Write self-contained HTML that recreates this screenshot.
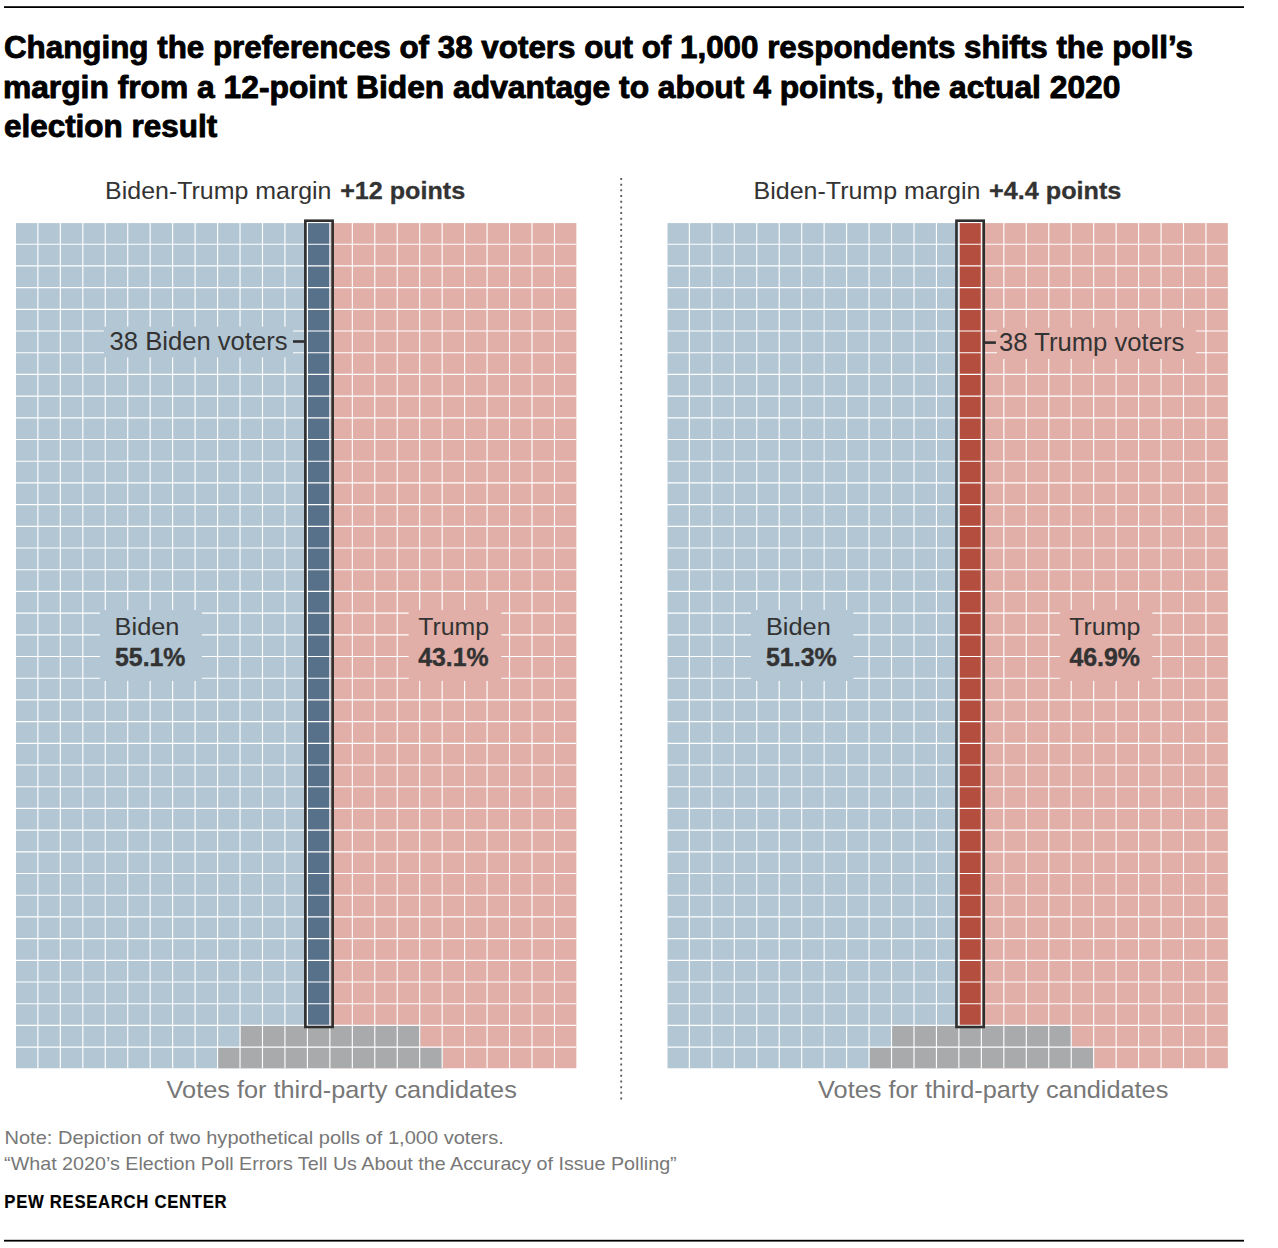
<!DOCTYPE html>
<html><head><meta charset="utf-8"><style>html,body{margin:0;padding:0;background:#fff;width:1278px;height:1248px;overflow:hidden}svg{display:block}</style></head>
<body><svg width="1278" height="1248" viewBox="0 0 1278 1248">
<rect x="0" y="0" width="1278" height="1248" fill="#fff"/>
<rect x="4" y="6.2" width="1240" height="1.8" fill="#000"/>
<rect x="4" y="1239.8" width="1240" height="1.8" fill="#000"/>
<rect x="16" y="223.1" width="291.98" height="845.15" fill="#b3c6d4"/>
<rect x="330.44" y="223.1" width="245.91" height="845.15" fill="#e1afa8"/>
<rect x="307.98" y="223.1" width="22.46" height="802.9" fill="#58718a"/>
<rect x="240.6" y="1026" width="179.68" height="21.7" fill="#a9aaac"/>
<rect x="218.14" y="1047.7" width="224.6" height="20.55" fill="#a9aaac"/>
<path fill="#fff" d="M37.31 223.1h1.15v845.15h-1.15zM59.77 223.1h1.15v845.15h-1.15zM82.23 223.1h1.15v845.15h-1.15zM104.69 223.1h1.15v845.15h-1.15zM127.15 223.1h1.15v845.15h-1.15zM149.61 223.1h1.15v845.15h-1.15zM172.07 223.1h1.15v845.15h-1.15zM194.53 223.1h1.15v845.15h-1.15zM216.99 223.1h1.15v845.15h-1.15zM239.45 223.1h1.15v845.15h-1.15zM261.91 223.1h1.15v845.15h-1.15zM284.37 223.1h1.15v845.15h-1.15zM306.83 223.1h1.15v845.15h-1.15zM329.29 223.1h1.15v845.15h-1.15zM351.75 223.1h1.15v845.15h-1.15zM374.21 223.1h1.15v845.15h-1.15zM396.67 223.1h1.15v845.15h-1.15zM419.13 223.1h1.15v845.15h-1.15zM441.59 223.1h1.15v845.15h-1.15zM464.05 223.1h1.15v845.15h-1.15zM486.51 223.1h1.15v845.15h-1.15zM508.97 223.1h1.15v845.15h-1.15zM531.43 223.1h1.15v845.15h-1.15zM553.89 223.1h1.15v845.15h-1.15zM16 243.65h560.35v1.15h-560.35zM16 265.35h560.35v1.15h-560.35zM16 287.05h560.35v1.15h-560.35zM16 308.75h560.35v1.15h-560.35zM16 330.45h560.35v1.15h-560.35zM16 352.15h560.35v1.15h-560.35zM16 373.85h560.35v1.15h-560.35zM16 395.55h560.35v1.15h-560.35zM16 417.25h560.35v1.15h-560.35zM16 438.95h560.35v1.15h-560.35zM16 460.65h560.35v1.15h-560.35zM16 482.35h560.35v1.15h-560.35zM16 504.05h560.35v1.15h-560.35zM16 525.75h560.35v1.15h-560.35zM16 547.45h560.35v1.15h-560.35zM16 569.15h560.35v1.15h-560.35zM16 590.85h560.35v1.15h-560.35zM16 612.55h560.35v1.15h-560.35zM16 634.25h560.35v1.15h-560.35zM16 655.95h560.35v1.15h-560.35zM16 677.65h560.35v1.15h-560.35zM16 699.35h560.35v1.15h-560.35zM16 721.05h560.35v1.15h-560.35zM16 742.75h560.35v1.15h-560.35zM16 764.45h560.35v1.15h-560.35zM16 786.15h560.35v1.15h-560.35zM16 807.85h560.35v1.15h-560.35zM16 829.55h560.35v1.15h-560.35zM16 851.25h560.35v1.15h-560.35zM16 872.95h560.35v1.15h-560.35zM16 894.65h560.35v1.15h-560.35zM16 916.35h560.35v1.15h-560.35zM16 938.05h560.35v1.15h-560.35zM16 959.75h560.35v1.15h-560.35zM16 981.45h560.35v1.15h-560.35zM16 1003.15h560.35v1.15h-560.35zM16 1024.85h560.35v1.15h-560.35zM16 1046.55h560.35v1.15h-560.35z"/>
<rect x="667.5" y="223.1" width="291.98" height="845.15" fill="#b3c6d4"/>
<rect x="981.94" y="223.1" width="245.91" height="845.15" fill="#e1afa8"/>
<rect x="959.48" y="223.1" width="22.46" height="802.9" fill="#b44f40"/>
<rect x="892.1" y="1026" width="179.68" height="21.7" fill="#a9aaac"/>
<rect x="869.64" y="1047.7" width="224.6" height="20.55" fill="#a9aaac"/>
<path fill="#fff" d="M688.81 223.1h1.15v845.15h-1.15zM711.27 223.1h1.15v845.15h-1.15zM733.73 223.1h1.15v845.15h-1.15zM756.19 223.1h1.15v845.15h-1.15zM778.65 223.1h1.15v845.15h-1.15zM801.11 223.1h1.15v845.15h-1.15zM823.57 223.1h1.15v845.15h-1.15zM846.03 223.1h1.15v845.15h-1.15zM868.49 223.1h1.15v845.15h-1.15zM890.95 223.1h1.15v845.15h-1.15zM913.41 223.1h1.15v845.15h-1.15zM935.87 223.1h1.15v845.15h-1.15zM958.33 223.1h1.15v845.15h-1.15zM980.79 223.1h1.15v845.15h-1.15zM1003.25 223.1h1.15v845.15h-1.15zM1025.71 223.1h1.15v845.15h-1.15zM1048.17 223.1h1.15v845.15h-1.15zM1070.63 223.1h1.15v845.15h-1.15zM1093.09 223.1h1.15v845.15h-1.15zM1115.55 223.1h1.15v845.15h-1.15zM1138.01 223.1h1.15v845.15h-1.15zM1160.47 223.1h1.15v845.15h-1.15zM1182.93 223.1h1.15v845.15h-1.15zM1205.39 223.1h1.15v845.15h-1.15zM667.5 243.65h560.35v1.15h-560.35zM667.5 265.35h560.35v1.15h-560.35zM667.5 287.05h560.35v1.15h-560.35zM667.5 308.75h560.35v1.15h-560.35zM667.5 330.45h560.35v1.15h-560.35zM667.5 352.15h560.35v1.15h-560.35zM667.5 373.85h560.35v1.15h-560.35zM667.5 395.55h560.35v1.15h-560.35zM667.5 417.25h560.35v1.15h-560.35zM667.5 438.95h560.35v1.15h-560.35zM667.5 460.65h560.35v1.15h-560.35zM667.5 482.35h560.35v1.15h-560.35zM667.5 504.05h560.35v1.15h-560.35zM667.5 525.75h560.35v1.15h-560.35zM667.5 547.45h560.35v1.15h-560.35zM667.5 569.15h560.35v1.15h-560.35zM667.5 590.85h560.35v1.15h-560.35zM667.5 612.55h560.35v1.15h-560.35zM667.5 634.25h560.35v1.15h-560.35zM667.5 655.95h560.35v1.15h-560.35zM667.5 677.65h560.35v1.15h-560.35zM667.5 699.35h560.35v1.15h-560.35zM667.5 721.05h560.35v1.15h-560.35zM667.5 742.75h560.35v1.15h-560.35zM667.5 764.45h560.35v1.15h-560.35zM667.5 786.15h560.35v1.15h-560.35zM667.5 807.85h560.35v1.15h-560.35zM667.5 829.55h560.35v1.15h-560.35zM667.5 851.25h560.35v1.15h-560.35zM667.5 872.95h560.35v1.15h-560.35zM667.5 894.65h560.35v1.15h-560.35zM667.5 916.35h560.35v1.15h-560.35zM667.5 938.05h560.35v1.15h-560.35zM667.5 959.75h560.35v1.15h-560.35zM667.5 981.45h560.35v1.15h-560.35zM667.5 1003.15h560.35v1.15h-560.35zM667.5 1024.85h560.35v1.15h-560.35zM667.5 1046.55h560.35v1.15h-560.35z"/>
<rect x="103.9" y="326.6" width="189.1" height="30.9" fill="#b3c6d4"/>
<rect x="997.0" y="327.7" width="198.9" height="31.2" fill="#e1afa8"/>
<rect x="100" y="610" width="101.9" height="70.9" fill="#b3c6d4"/>
<rect x="408.7" y="610" width="92.6" height="70.9" fill="#e1afa8"/>
<rect x="751.0" y="610" width="102.4" height="70.9" fill="#b3c6d4"/>
<rect x="1060.1" y="610" width="92.2" height="70.9" fill="#e1afa8"/>
<rect x="305.35" y="220.7" width="27.3" height="806.3" fill="none" stroke="#2f2f2f" stroke-width="2.6"/>
<rect x="956.45" y="220.7" width="27.3" height="806.3" fill="none" stroke="#2f2f2f" stroke-width="2.6"/>
<rect x="293.0" y="340.2" width="11.2" height="2.6" fill="#2f2f2f"/>
<rect x="984.9" y="341.3" width="11.0" height="2.6" fill="#2f2f2f"/>
<line x1="621.2" y1="178" x2="621.2" y2="1100" stroke="#5a5a5a" stroke-width="1.8" stroke-dasharray="2 3.676"/>
<g font-family="Liberation Sans">
<text transform="translate(3.92 58.1) scale(0.9805 1)" font-size="32" font-weight="bold" stroke="#000" stroke-width="0.9" stroke-linejoin="round" letter-spacing="0" fill="#000">Changing the preferences of 38 voters out of 1,000 respondents shifts the poll’s</text>
<text transform="translate(2.91 97.7) scale(0.9936 1)" font-size="32" font-weight="bold" stroke="#000" stroke-width="0.9" stroke-linejoin="round" letter-spacing="0" fill="#000">margin from a 12-point Biden advantage to about 4 points, the actual 2020</text>
<text transform="translate(3.92 137.4) scale(0.9833 1)" font-size="32" font-weight="bold" stroke="#000" stroke-width="0.9" stroke-linejoin="round" letter-spacing="0" fill="#000">election result</text>
<text transform="translate(105.12 199) scale(1.0395 1)" font-size="24" letter-spacing="0" fill="#333">Biden-Trump margin</text>
<text transform="translate(340.15 199) scale(1.0475 1)" font-size="24" font-weight="bold" stroke="#333" stroke-width="0.3" stroke-linejoin="round" letter-spacing="0" fill="#333">+12 points</text>
<text transform="translate(753.52 199) scale(1.0423 1)" font-size="24" letter-spacing="0" fill="#333">Biden-Trump margin</text>
<text transform="translate(989.05 199) scale(1.05 1)" font-size="24" font-weight="bold" stroke="#333" stroke-width="0.3" stroke-linejoin="round" letter-spacing="0" fill="#333">+4.4 points</text>
<text transform="translate(109.57 350.1) scale(1.025 1)" font-size="25" letter-spacing="0" fill="#333">38 Biden voters</text>
<text transform="translate(998.97 351.1) scale(1.0263 1)" font-size="25" letter-spacing="0" fill="#333">38 Trump voters</text>
<text transform="translate(114.59 635.1) scale(1.0569 1)" font-size="24" letter-spacing="0" fill="#333">Biden</text>
<text transform="translate(115.01 665.6) scale(0.9943 1)" font-size="25" font-weight="bold" stroke="#333" stroke-width="0.4" stroke-linejoin="round" letter-spacing="0" fill="#333">55.1%</text>
<text transform="translate(418.2 635.1) scale(1.0353 1)" font-size="24" letter-spacing="0" fill="#333">Trump</text>
<text transform="translate(418.2 665.6) scale(0.9915 1)" font-size="25" font-weight="bold" stroke="#333" stroke-width="0.4" stroke-linejoin="round" letter-spacing="0" fill="#333">43.1%</text>
<text transform="translate(765.89 635.1) scale(1.0569 1)" font-size="24" letter-spacing="0" fill="#333">Biden</text>
<text transform="translate(766 665.6) scale(0.9971 1)" font-size="25" font-weight="bold" stroke="#333" stroke-width="0.4" stroke-linejoin="round" letter-spacing="0" fill="#333">51.3%</text>
<text transform="translate(1069.2 635.1) scale(1.0426 1)" font-size="24" letter-spacing="0" fill="#333">Trump</text>
<text transform="translate(1069.4 665.6) scale(0.9958 1)" font-size="25" font-weight="bold" stroke="#333" stroke-width="0.4" stroke-linejoin="round" letter-spacing="0" fill="#333">46.9%</text>
<text transform="translate(166.6 1098) scale(1.0545 1)" font-size="24" letter-spacing="0" fill="#777">Votes for third-party candidates</text>
<text transform="translate(818.1 1098) scale(1.0545 1)" font-size="24" letter-spacing="0" fill="#777">Votes for third-party candidates</text>
<text transform="translate(4.49 1143.7) scale(1.1148 1)" font-size="18" letter-spacing="0" fill="#777">Note: Depiction of two hypothetical polls of 1,000 voters.</text>
<text transform="translate(4.1 1169.6) scale(1.0953 1)" font-size="18" letter-spacing="0" fill="#777">“What 2020’s Election Poll Errors Tell Us About the Accuracy of Issue Polling”</text>
<text transform="translate(4.32 1207.8) scale(0.8795 1)" font-size="19" font-weight="bold" stroke="#000" stroke-width="0.2" stroke-linejoin="round" letter-spacing="0.8" fill="#000">PEW RESEARCH CENTER</text>
</g>
</svg></body></html>
